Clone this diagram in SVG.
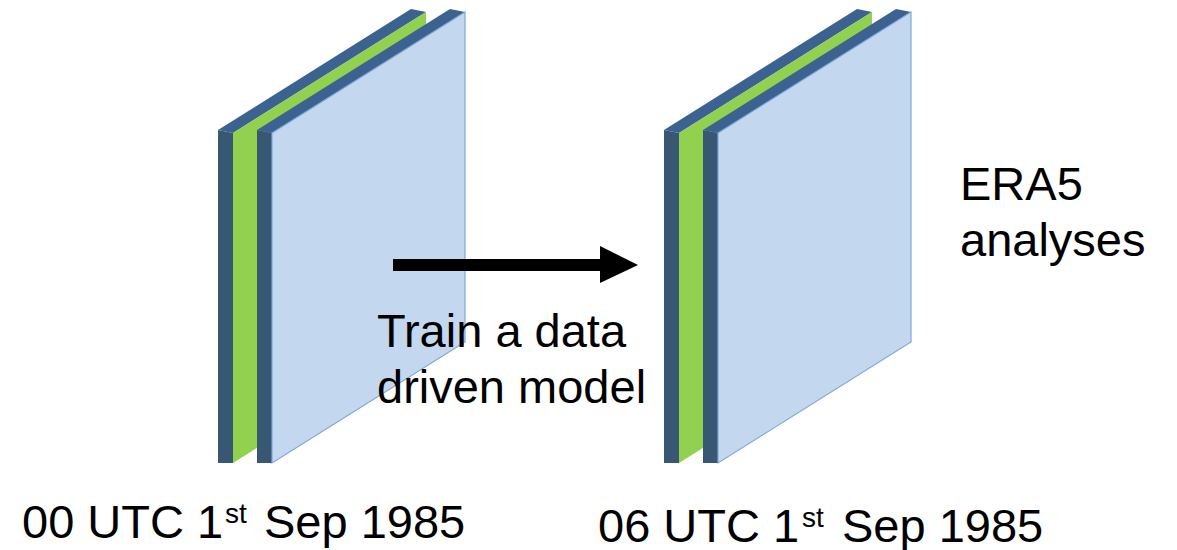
<svg xmlns="http://www.w3.org/2000/svg" width="1177" height="550" viewBox="0 0 1177 550">
<style>
.side{fill:#385773}
.top{fill:#3b6290}
.green{fill:#92d050}
.face{fill:#c3d8ef;stroke:#7fa7d8;stroke-width:1.2}
.t{font-family:"Liberation Sans",Arial,sans-serif;font-size:47px;fill:#000}
.sup{font-family:"Liberation Sans",Arial,sans-serif;font-size:28px;fill:#000}
</style>
<defs>
<g id="stack">
<polygon class="side" points="218,130 233,133 233,463 218,463"/>
<polygon class="top" points="218,130 411,9 426,12 233,133"/>
<polygon class="green" points="233,133 426,12 426,342 233,463"/>
<polygon class="side" points="257,130 272,133 272,463 257,463"/>
<polygon class="top" points="257,130 450,9 465,12 272,133"/>
<polygon class="face" points="272,133 465,12 465,342 272,463"/>
</g>
</defs>
<g id="stack-00">
<use href="#stack"/>
</g>
<g id="stack-06">
<use href="#stack" transform="translate(446,0)"/>
</g>
<g id="connectors">
<rect x="393" y="259" width="208" height="12" fill="#000"/>
<polygon points="600,246 638,265 600,283" fill="#000"/>
</g>
<g id="label-train">
<text class="t" x="377" y="347">Train a data</text>
<text class="t" x="377" y="403">driven model</text>
</g>
<g id="label-era5">
<text class="t" x="960" y="200">ERA5</text>
<text class="t" x="960" y="256">analyses</text>
</g>
<g id="label-00">
<text class="t" x="22" y="538">00 UTC 1</text>
<text class="sup" x="225" y="523">st</text>
<text class="t" x="264" y="538">Sep 1985</text>
</g>
<g id="label-06">
<text class="t" x="598" y="542">06 UTC 1</text>
<text class="sup" x="802" y="527">st</text>
<text class="t" x="842" y="542">Sep 1985</text>
</g>
</svg>
